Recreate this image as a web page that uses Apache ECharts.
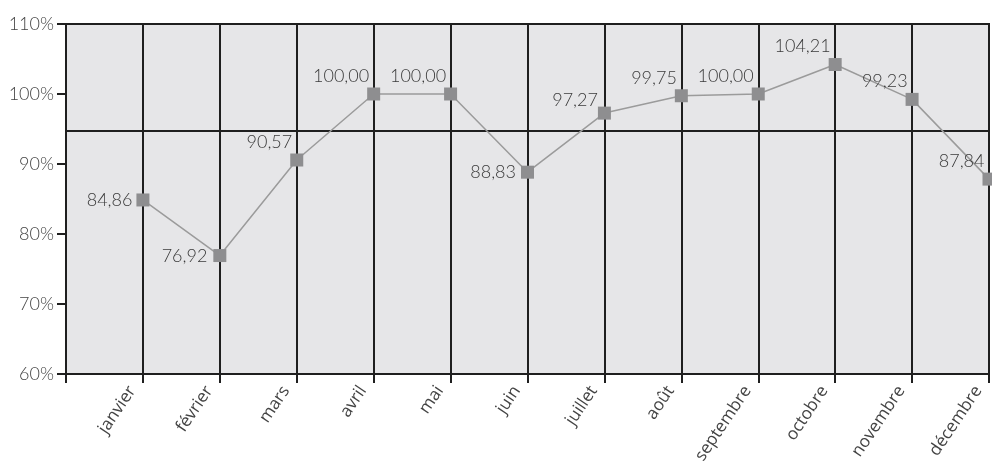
<!DOCTYPE html>
<html>
<head>
<meta charset="utf-8">
<script src="https://cdn.jsdelivr.net/npm/echarts@6/dist/echarts.min.js"></script>
<style>
  html, body { margin: 0; padding: 0; background: #ffffff; }
  #chart { width: 992px; height: 469px; }
</style>
</head>
<body>
<div id="chart"></div>
<script>
// Monthly rates (%), one point per month
const months = ['janvier', 'février', 'mars', 'avril', 'mai', 'juin', 'juillet', 'août', 'septembre', 'octobre', 'novembre', 'décembre'];
const rates = [84.86, 76.92, 90.57, 100.00, 100.00, 88.83, 97.27, 99.75, 100.00, 104.21, 99.23, 87.84];
const referenceLevel = 94.7;
const yTicks = [60, 70, 80, 90, 100, 110];

// Leading empty slot so each month sits on its own grid line
const xCategories = [''].concat(months);

// Label placement per point (offsets relative to the left side of the marker)
function labelFor(i) {
  const sideways = { 0: [1, 0], 1: [-1, 1], 5: [0, 0], 6: [5, -13] };
  const off = sideways[i] || [7, -18];
  return { offset: off };
}

const fmt = v => v.toFixed(2).replace('.', ',');

const seriesData = [null].concat(rates.map((v, i) => ({
  value: v,
  label: labelFor(i)
})));

const ink = '#1f1f1f';

const chart = echarts.init(document.getElementById('chart'), null, { renderer: 'canvas' });

chart.setOption({
  animation: false,
  backgroundColor: '#ffffff',
  grid: {
    left: 66, right: 3, top: 24, bottom: 94,
    show: true,
    backgroundColor: '#e6e6e8',
    borderColor: ink,
    borderWidth: 2
  },
  xAxis: {
    type: 'category',
    data: xCategories,
    boundaryGap: false,
    axisLine: { show: true, lineStyle: { color: ink, width: 2 } },
    axisTick: { show: true, interval: 0, length: 9, lineStyle: { color: ink, width: 2 } },
    splitLine: { show: true, interval: 0, lineStyle: { color: ink, width: 2 } },
    axisLabel: {
      interval: 0,
      rotate: 56,
      margin: 21,
      color: '#444444',
      fontFamily: '"Open Sans", sans-serif',
      fontSize: 17,
      lineHeight: 26,
      verticalAlign: 'bottom'
    }
  },
  yAxis: {
    type: 'value',
    min: yTicks[0],
    max: yTicks[yTicks.length - 1],
    interval: 10,
    axisLine: { show: true, lineStyle: { color: ink, width: 2 } },
    axisTick: { show: true, length: 9, lineStyle: { color: ink, width: 2 } },
    splitLine: { show: false },
    axisLabel: {
      formatter: '{value}%',
      margin: 12,
      color: '#444444',
      fontFamily: 'Lato, sans-serif',
      fontWeight: 300,
      fontSize: 18
    }
  },
  series: [{
    type: 'line',
    data: seriesData,
    symbol: 'rect',
    symbolSize: 13,
    connectNulls: false,
    lineStyle: { color: '#9b9b9b', width: 1.5 },
    itemStyle: { color: '#8e8e90' },
    label: {
      show: true,
      position: 'left',
      distance: 5,
      formatter: p => fmt(p.value),
      color: '#3a3a3a',
      fontFamily: 'Lato, sans-serif',
      fontWeight: 300,
      fontSize: 18
    },
    markLine: {
      silent: true,
      symbol: ['none', 'none'],
      label: { show: false },
      lineStyle: { color: ink, width: 2, type: 'solid' },
      data: [{ yAxis: referenceLevel }]
    },
    z: 5
  }]
});
</script>
</body>
</html>
